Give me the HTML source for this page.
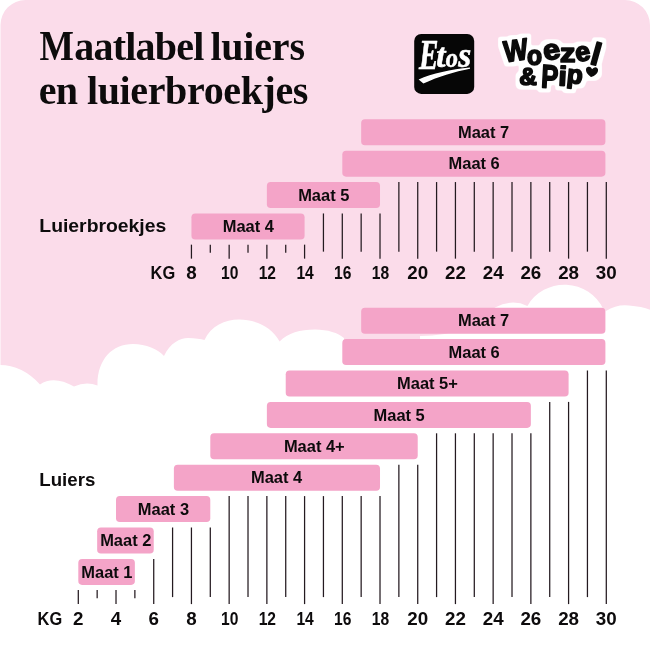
<!DOCTYPE html>
<html lang="nl">
<head>
<meta charset="utf-8">
<title>Maatlabel luiers en luierbroekjes</title>
<style>
html,body{margin:0;padding:0;background:#fff;}
body{width:650px;height:650px;overflow:hidden;}
svg{display:block;}
.t{font-family:"Liberation Serif",serif;font-weight:700;font-size:40px;fill:#0d0b0c;}
.s{font-family:"Liberation Sans",sans-serif;font-weight:700;fill:#0d0b0c;}
.lab{font-size:19px;}
.bar{font-size:16.3px;text-anchor:middle;}
.ax{font-size:18.6px;text-anchor:middle;}
.kg{font-size:18.6px;}
</style>
</head>
<body>
<svg width="650" height="650" viewBox="0 0 650 650">

<rect x="0" y="0" width="650" height="650" fill="#fff"/>
<path d="M0.5 650V25A25 25 0 0 1 25.5 0H625A25 25 0 0 1 650 25V650Z" fill="#FBDCEA"/>
<path d="M0 650V365Q22 365 40 384.4Q54 375 74 386.6Q86 381 97.5 385.5C97 360 112 344 133 344C146 344 158 349 164 356C170 343 180 338 188 338C195 338 201 339 204.5 340C211 326 225 319.6 239 319.6C256 319.6 272 327 279.6 341.6C288 333 300 329.5 315 329.5C328 329.5 338 333 344 338V345H420V336Q470 336 495 307.5Q512 298.5 527.4 305.9A43 43 0 0 1 603.4 309.3L606 311Q617 304 629 305.5Q642 306.5 650 309.7V650Z" fill="#fff"/>
<text class="t" y="60"><tspan x="39.6" font-size="41.3" textLength="34.4" lengthAdjust="spacingAndGlyphs">M</tspan><tspan x="74.2" textLength="130.2" lengthAdjust="spacing">aatlabel</tspan> <tspan x="210.4" textLength="94.6" lengthAdjust="spacing">luiers</tspan></text>
<text class="t" y="103.5"><tspan x="38.7" textLength="39.2" lengthAdjust="spacing">en</tspan> <tspan x="87" textLength="221.4" lengthAdjust="spacing">luierbroekjes</tspan></text>
<defs><filter id="ol" x="-10%" y="-20%" width="120%" height="140%" color-interpolation-filters="sRGB"><feMorphology in="SourceAlpha" operator="dilate" radius="4" result="d"/><feGaussianBlur in="d" stdDeviation="1.1" result="b"/><feComponentTransfer in="b" result="m"><feFuncA type="linear" slope="2.6" intercept="-0.8"/></feComponentTransfer><feFlood flood-color="#fff"/><feComposite in2="m" operator="in" result="w"/><feMerge><feMergeNode in="w"/><feMergeNode in="SourceGraphic"/></feMerge></filter></defs>
<g>
<rect x="414.2" y="33.9" width="60" height="60" rx="7" fill="#060606"/>
<g font-family="'Liberation Serif',serif" font-style="italic" font-weight="700" fill="#fff" stroke="#fff" stroke-width="0.6" stroke-linejoin="round"><text><tspan x="418.93" y="69.08" font-size="41.79" rotate="0" textLength="19.47" lengthAdjust="spacingAndGlyphs">E</tspan><tspan x="436.33" y="66.80" font-size="33.25" rotate="0" textLength="9.21" lengthAdjust="spacingAndGlyphs">t</tspan><tspan x="445.65" y="67.00" font-size="27.93" rotate="0" textLength="12.20" lengthAdjust="spacingAndGlyphs">o</tspan><tspan x="458.19" y="67.00" font-size="35.54" rotate="0" textLength="12.98" lengthAdjust="spacingAndGlyphs">s</tspan></text></g>
<path d="M418.6 79.4C432 73.6 451 69.4 470 67.6L470 68.8C455 71.6 437.5 77 423.4 83.6Z" fill="#fff"/>
</g>
<g filter="url(#ol)" font-family="'Liberation Sans',sans-serif" font-weight="700" fill="#0b0b0b" stroke="#0b0b0b" stroke-width="1.7" stroke-linejoin="round" stroke-linecap="round">
<text><tspan x="504.86" y="62.14" font-size="29.88" rotate="-7" textLength="24.12" lengthAdjust="spacingAndGlyphs">W</tspan><tspan x="527.07" y="65.32" font-size="27.39" rotate="0" textLength="15.08" lengthAdjust="spacingAndGlyphs">o</tspan><tspan x="544.83" y="60.59" font-size="28.18" rotate="-10" textLength="16.96" lengthAdjust="spacingAndGlyphs">e</tspan><tspan x="560.09" y="62.08" font-size="26.05" rotate="0" textLength="15.38" lengthAdjust="spacingAndGlyphs">z</tspan><tspan x="576.66" y="62.05" font-size="26.83" rotate="-10" textLength="14.87" lengthAdjust="spacingAndGlyphs">e</tspan><tspan x="589.11" y="63.51" font-size="31.34" rotate="15" textLength="8.98" lengthAdjust="spacingAndGlyphs">l</tspan> <tspan x="519.14" y="84.96" font-size="24.55" rotate="0" textLength="17.63" lengthAdjust="spacingAndGlyphs">&amp;</tspan> <tspan x="540.72" y="87.31" font-size="32.70" rotate="4" textLength="16.91" lengthAdjust="spacingAndGlyphs">P</tspan><tspan x="557.92" y="85.31" font-size="27.07" rotate="3" textLength="8.33" lengthAdjust="spacingAndGlyphs">i</tspan><tspan x="566.20" y="82.52" font-size="25.75" rotate="6" textLength="15.80" lengthAdjust="spacingAndGlyphs">p</tspan></text>
<path stroke-width="1.4" d="M591 76.2C588.2 74.2 586.4 71.4 586.7 69.2C587 67.2 589.6 66.7 591 68.6C591.5 69.2 591.8 69.8 592 70.4C592.5 69.6 593.2 68.8 594.2 68.3C596.2 67.4 597.8 68.8 597.3 70.9C596.7 73.3 594 75.4 591 76.2Z"/>
</g>
<g stroke="#241a20" stroke-width="1.25" fill="none"><line x1="191.44" y1="244.65" x2="191.44" y2="258.65"/><line x1="210.3" y1="244.65" x2="210.3" y2="252.85"/><line x1="229.16" y1="244.65" x2="229.16" y2="258.65"/><line x1="248.01" y1="244.65" x2="248.01" y2="252.85"/><line x1="266.87" y1="244.65" x2="266.87" y2="258.65"/><line x1="285.73" y1="244.65" x2="285.73" y2="252.85"/><line x1="304.58" y1="244.65" x2="304.58" y2="258.65"/><line x1="323.44" y1="213.45" x2="323.44" y2="251.65"/><line x1="342.3" y1="213.45" x2="342.3" y2="258.65"/><line x1="361.16" y1="213.45" x2="361.16" y2="251.65"/><line x1="380.01" y1="213.45" x2="380.01" y2="258.65"/><line x1="398.87" y1="182.05" x2="398.87" y2="251.65"/><line x1="417.73" y1="182.05" x2="417.73" y2="258.65"/><line x1="436.58" y1="182.05" x2="436.58" y2="251.65"/><line x1="455.44" y1="182.05" x2="455.44" y2="258.65"/><line x1="474.3" y1="182.05" x2="474.3" y2="251.65"/><line x1="493.15" y1="182.05" x2="493.15" y2="258.65"/><line x1="512.01" y1="182.05" x2="512.01" y2="251.65"/><line x1="530.87" y1="182.05" x2="530.87" y2="258.65"/><line x1="549.72" y1="182.05" x2="549.72" y2="251.65"/><line x1="568.58" y1="182.05" x2="568.58" y2="258.65"/><line x1="587.44" y1="182.05" x2="587.44" y2="251.65"/><line x1="606.3" y1="182.05" x2="606.3" y2="258.65"/></g>
<rect x="361.16" y="119.25" width="244.24" height="26" rx="3.8" fill="#F4A4C8"/>
<text class="s bar" transform="translate(483.58 138) scale(1.01 1)">Maat 7</text>
<rect x="342.3" y="150.65" width="263.1" height="26" rx="3.8" fill="#F4A4C8"/>
<text class="s bar" transform="translate(474.15 169.4) scale(1.01 1)">Maat 6</text>
<rect x="266.87" y="182.05" width="113.14" height="26" rx="3.8" fill="#F4A4C8"/>
<text class="s bar" transform="translate(323.74 200.8) scale(1.01 1)">Maat 5</text>
<rect x="191.44" y="213.45" width="113.14" height="26" rx="3.8" fill="#F4A4C8"/>
<text class="s bar" transform="translate(248.31 232.2) scale(1.01 1)">Maat 4</text>
<text class="s kg" x="150.6" y="278.8" textLength="24.6" lengthAdjust="spacingAndGlyphs">KG</text>
<text class="s ax" transform="translate(191.44 278.8) scale(1.01 1)">8</text>
<text class="s ax" transform="translate(229.66 278.8) scale(0.84 1)">10</text>
<text class="s ax" transform="translate(267.37 278.8) scale(0.84 1)">12</text>
<text class="s ax" transform="translate(305.08 278.8) scale(0.84 1)">14</text>
<text class="s ax" transform="translate(342.8 278.8) scale(0.84 1)">16</text>
<text class="s ax" transform="translate(380.51 278.8) scale(0.84 1)">18</text>
<text class="s ax" transform="translate(417.73 278.8) scale(1.01 1)">20</text>
<text class="s ax" transform="translate(455.44 278.8) scale(1.01 1)">22</text>
<text class="s ax" transform="translate(493.15 278.8) scale(1.01 1)">24</text>
<text class="s ax" transform="translate(530.87 278.8) scale(1.01 1)">26</text>
<text class="s ax" transform="translate(568.58 278.8) scale(1.01 1)">28</text>
<text class="s ax" transform="translate(606.3 278.8) scale(1.01 1)">30</text>
<text class="s lab" x="39.3" y="232.4" textLength="127" lengthAdjust="spacingAndGlyphs">Luierbroekjes</text>
<g stroke="#241a20" stroke-width="1.25" fill="none"><line x1="78.3" y1="590.1" x2="78.3" y2="604.1"/><line x1="97.16" y1="590.1" x2="97.16" y2="598.3"/><line x1="116.01" y1="590.1" x2="116.01" y2="604.1"/><line x1="134.87" y1="590.1" x2="134.87" y2="598.3"/><line x1="153.73" y1="558.9" x2="153.73" y2="604.1"/><line x1="172.58" y1="527.5" x2="172.58" y2="597.1"/><line x1="191.44" y1="527.5" x2="191.44" y2="604.1"/><line x1="210.3" y1="527.5" x2="210.3" y2="597.1"/><line x1="229.16" y1="496.1" x2="229.16" y2="604.1"/><line x1="248.01" y1="496.1" x2="248.01" y2="597.1"/><line x1="266.87" y1="496.1" x2="266.87" y2="604.1"/><line x1="285.73" y1="496.1" x2="285.73" y2="597.1"/><line x1="304.58" y1="496.1" x2="304.58" y2="604.1"/><line x1="323.44" y1="496.1" x2="323.44" y2="597.1"/><line x1="342.3" y1="496.1" x2="342.3" y2="604.1"/><line x1="361.16" y1="496.1" x2="361.16" y2="597.1"/><line x1="380.01" y1="496.1" x2="380.01" y2="604.1"/><line x1="398.87" y1="464.7" x2="398.87" y2="597.1"/><line x1="417.73" y1="464.7" x2="417.73" y2="604.1"/><line x1="436.58" y1="433.3" x2="436.58" y2="597.1"/><line x1="455.44" y1="433.3" x2="455.44" y2="604.1"/><line x1="474.3" y1="433.3" x2="474.3" y2="597.1"/><line x1="493.15" y1="433.3" x2="493.15" y2="604.1"/><line x1="512.01" y1="433.3" x2="512.01" y2="597.1"/><line x1="530.87" y1="433.3" x2="530.87" y2="604.1"/><line x1="549.72" y1="401.9" x2="549.72" y2="597.1"/><line x1="568.58" y1="401.9" x2="568.58" y2="604.1"/><line x1="587.44" y1="370.5" x2="587.44" y2="597.1"/><line x1="606.3" y1="370.5" x2="606.3" y2="604.1"/></g>
<rect x="361.16" y="307.7" width="244.24" height="26" rx="3.8" fill="#F4A4C8"/>
<text class="s bar" transform="translate(483.58 326.45) scale(1.01 1)">Maat 7</text>
<rect x="342.3" y="339.1" width="263.1" height="26" rx="3.8" fill="#F4A4C8"/>
<text class="s bar" transform="translate(474.15 357.85) scale(1.01 1)">Maat 6</text>
<rect x="285.73" y="370.5" width="282.86" height="26" rx="3.8" fill="#F4A4C8"/>
<text class="s bar" transform="translate(427.45 389.25) scale(1.01 1)">Maat 5+</text>
<rect x="266.87" y="401.9" width="264" height="26" rx="3.8" fill="#F4A4C8"/>
<text class="s bar" transform="translate(399.17 420.65) scale(1.01 1)">Maat 5</text>
<rect x="210.3" y="433.3" width="207.43" height="26" rx="3.8" fill="#F4A4C8"/>
<text class="s bar" transform="translate(314.31 452.05) scale(1.01 1)">Maat 4+</text>
<rect x="173.88" y="464.7" width="206.13" height="26" rx="3.8" fill="#F4A4C8"/>
<text class="s bar" transform="translate(276.6 483.45) scale(1.01 1)">Maat 4</text>
<rect x="116.01" y="496.1" width="94.28" height="26" rx="3.8" fill="#F4A4C8"/>
<text class="s bar" transform="translate(163.46 514.85) scale(1.01 1)">Maat 3</text>
<rect x="97.16" y="527.5" width="56.57" height="26" rx="3.8" fill="#F4A4C8"/>
<text class="s bar" transform="translate(125.74 546.25) scale(1.01 1)">Maat 2</text>
<rect x="78.3" y="558.9" width="56.57" height="26" rx="3.8" fill="#F4A4C8"/>
<text class="s bar" transform="translate(106.89 577.65) scale(1.01 1)">Maat 1</text>
<text class="s kg" x="37.6" y="624.65" textLength="24.6" lengthAdjust="spacingAndGlyphs">KG</text>
<text class="s ax" transform="translate(78.3 624.65) scale(1.01 1)">2</text>
<text class="s ax" transform="translate(116.01 624.65) scale(1.01 1)">4</text>
<text class="s ax" transform="translate(153.73 624.65) scale(1.01 1)">6</text>
<text class="s ax" transform="translate(191.44 624.65) scale(1.01 1)">8</text>
<text class="s ax" transform="translate(229.66 624.65) scale(0.84 1)">10</text>
<text class="s ax" transform="translate(267.37 624.65) scale(0.84 1)">12</text>
<text class="s ax" transform="translate(305.08 624.65) scale(0.84 1)">14</text>
<text class="s ax" transform="translate(342.8 624.65) scale(0.84 1)">16</text>
<text class="s ax" transform="translate(380.51 624.65) scale(0.84 1)">18</text>
<text class="s ax" transform="translate(417.73 624.65) scale(1.01 1)">20</text>
<text class="s ax" transform="translate(455.44 624.65) scale(1.01 1)">22</text>
<text class="s ax" transform="translate(493.15 624.65) scale(1.01 1)">24</text>
<text class="s ax" transform="translate(530.87 624.65) scale(1.01 1)">26</text>
<text class="s ax" transform="translate(568.58 624.65) scale(1.01 1)">28</text>
<text class="s ax" transform="translate(606.3 624.65) scale(1.01 1)">30</text>
<text class="s lab" x="39.3" y="485.6" textLength="56" lengthAdjust="spacingAndGlyphs">Luiers</text>
</svg>
</body>
</html>
